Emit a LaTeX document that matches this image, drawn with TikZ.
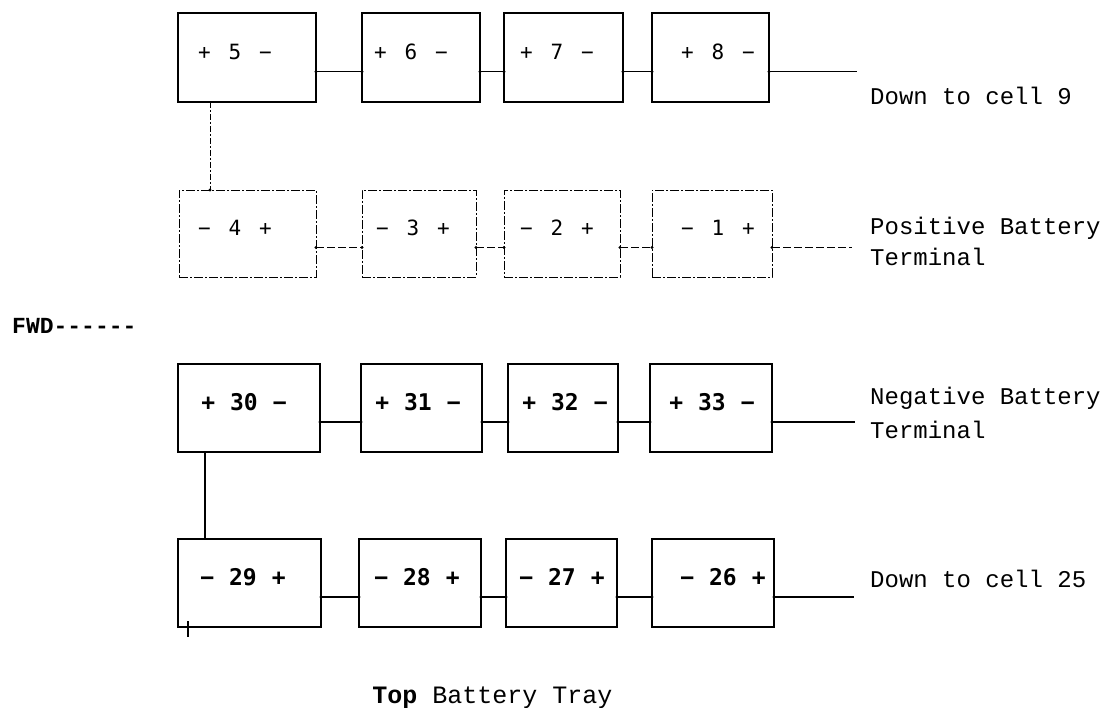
\documentclass[tikz,border=0pt]{standalone}
\usepackage{fontspec}
\usetikzlibrary{calc}
\newfontfamily\cellfont{DejaVu Sans Mono}
\newfontfamily\typefont{Liberation Mono}
\newcommand\celltxtA[3]{#1\hspace{0.85em}#2\hspace{0.85em}#3}
\newcommand\celltxtB[3]{#1\hspace{0.65em}#2\hspace{0.65em}#3}
\tikzset{
  box/.style={draw, inner sep=0pt, outer sep=0pt, line width=1.1pt},
  rowA/.style={box, minimum height=89pt},
  rowB/.style={box, minimum height=87pt, line width=0.9pt, dash pattern=on 9pt off 2pt on 2pt off 2pt},
  rowC/.style={box, minimum height=88pt, line width=1.4pt},
  wireA/.style={line width=1.1pt},
  wireB/.style={line width=0.9pt, dash pattern=on 8pt off 3pt},
  wireC/.style={line width=1.4pt},
  labA/.style={font=\cellfont\fontsize{21}{25}\selectfont, inner sep=0pt},
  labC/.style={font=\cellfont\bfseries\fontsize{23}{27}\selectfont, inner sep=0pt},
  side/.style={font=\typefont\fontsize{24}{28}\selectfont, anchor=base west, inner sep=0pt},
}
\begin{document}
\begin{tikzpicture}[x=1pt, y=-1pt]
\useasboundingbox[fill=white] (0,0) rectangle (1111,708);

% ---- row 1 : cells 5..8
\node[rowA, minimum width=138pt] (b5) at (247,57.5) {};
\node[rowA, minimum width=118pt] (b6) at (421,57.5) {};
\node[rowA, minimum width=119pt] (b7) at (563.5,57.5) {};
\node[rowA, minimum width=117pt] (b8) at (710.5,57.5) {};
% ---- row 2 : cells 4..1
\node[rowB, minimum width=137pt] (b4) at (247.5,233.5) {};
\node[rowB, minimum width=114pt] (b3) at (419,233.5) {};
\node[rowB, minimum width=116pt] (b2) at (562,233.5) {};
\node[rowB, minimum width=120pt] (b1) at (712,233.5) {};
% ---- row 3 : cells 30..33
\node[rowC, minimum width=142pt] (b30) at (249,408) {};
\node[rowC, minimum width=121pt] (b31) at (421.5,408) {};
\node[rowC, minimum width=110pt] (b32) at (563,408) {};
\node[rowC, minimum width=122pt] (b33) at (711,408) {};
% ---- row 4 : cells 29..26
\node[rowC, minimum width=143pt] (b29) at (249.5,583) {};
\node[rowC, minimum width=122pt] (b28) at (420,583) {};
\node[rowC, minimum width=111pt] (b27) at (561.5,583) {};
\node[rowC, minimum width=122pt] (b26) at (713,583) {};

% ---- cell labels
\node[labA] (l5) at (235,52) {\celltxtA{+}{5}{−}};
\node[labA] (l6) at (411,52) {\celltxtA{+}{6}{−}};
\node[labA] (l7) at (557,52) {\celltxtA{+}{7}{−}};
\node[labA] (l8) at (718,52) {\celltxtA{+}{8}{−}};
\node[labA] (l4) at (235,228) {\celltxtA{−}{4}{+}};
\node[labA] (l3) at (413,228) {\celltxtA{−}{3}{+}};
\node[labA] (l2) at (557,228) {\celltxtA{−}{2}{+}};
\node[labA] (l1) at (718,228) {\celltxtA{−}{1}{+}};
\node[labC] (l30) at (244,402) {\celltxtB{+}{30}{−}};
\node[labC] (l31) at (418,402) {\celltxtB{+}{31}{−}};
\node[labC] (l32) at (565,402) {\celltxtB{+}{32}{−}};
\node[labC] (l33) at (712,402) {\celltxtB{+}{33}{−}};
\node[labC] (l29) at (243,577) {\celltxtB{−}{29}{+}};
\node[labC] (l28) at (417,577) {\celltxtB{−}{28}{+}};
\node[labC] (l27) at (562,577) {\celltxtB{−}{27}{+}};
\node[labC] (l26) at (723,577) {\celltxtB{−}{26}{+}};

% ---- series connectors between neighbouring cells
\foreach \a/\b/\w in {b5/b6/wireA, b6/b7/wireA, b7/b8/wireA,
                      b4/b3/wireB, b3/b2/wireB, b2/b1/wireB,
                      b30/b31/wireC, b31/b32/wireC, b32/b33/wireC,
                      b29/b28/wireC, b28/b27/wireC, b27/b26/wireC}{
  \path ($(\a.south east)!0.34!(\a.north east)$) coordinate (p)
        ($(\b.south west)!0.34!(\b.north west)$) coordinate (q);
  \draw[\w] (p) -- (q);
  \fill (p) circle[radius=1.6pt] (q) circle[radius=1.6pt];
}

% ---- free ends to the right
\coordinate (e8) at (857,71);
\coordinate (e1) at (852,248);
\coordinate (e33) at (855,422);
\coordinate (e26) at (854,598);
\foreach \a/\e/\w in {b8/e8/wireA, b1/e1/wireB, b33/e33/wireC, b26/e26/wireC}{
  \path ($(\a.south east)!0.34!(\a.north east)$) coordinate (p);
  \draw[\w] (p) -- (p -| \e);
  \fill (p) circle[radius=1.6pt];
}

% ---- links between rows
\path ($(b5.south west)!0.232!(b5.south east)$) coordinate (v1);
\draw[line width=0.9pt, dash pattern=on 6pt off 2pt on 2pt off 2pt] (v1) -- (v1 |- b4.north);
\fill (v1 |- b4.north) circle[radius=1.6pt];
\path ($(b30.south west)!0.19!(b30.south east)$) coordinate (v2);
\draw[wireC] (v2) -- (v2 |- b29.north);
\draw[wireC] ($(b29.south west)+(10,-6)$) -- ($(b29.south west)+(10,10)$);

% ---- texts
\node[side] (t9) at (870,105) {Down to cell 9};
\node[side] (tp1) at (870,235) {Positive Battery};
\node[side] (tp2) at (870,266) {Terminal};
\node[side] (tn1) at (870,404) {Negative Battery};
\node[side] (tn2) at (870,438) {Terminal};
\node[side] (t25) at (870,587) {Down to cell 25};
\node[side, font=\typefont\bfseries\fontsize{23}{27}\selectfont] (fwd) at (12,334) {FWD------};
\node[font=\typefont\fontsize{25}{29}\selectfont, anchor=base, inner sep=0pt] (title) at (492.5,703) {\textbf{Top} Battery Tray};
\end{tikzpicture}
\end{document}
